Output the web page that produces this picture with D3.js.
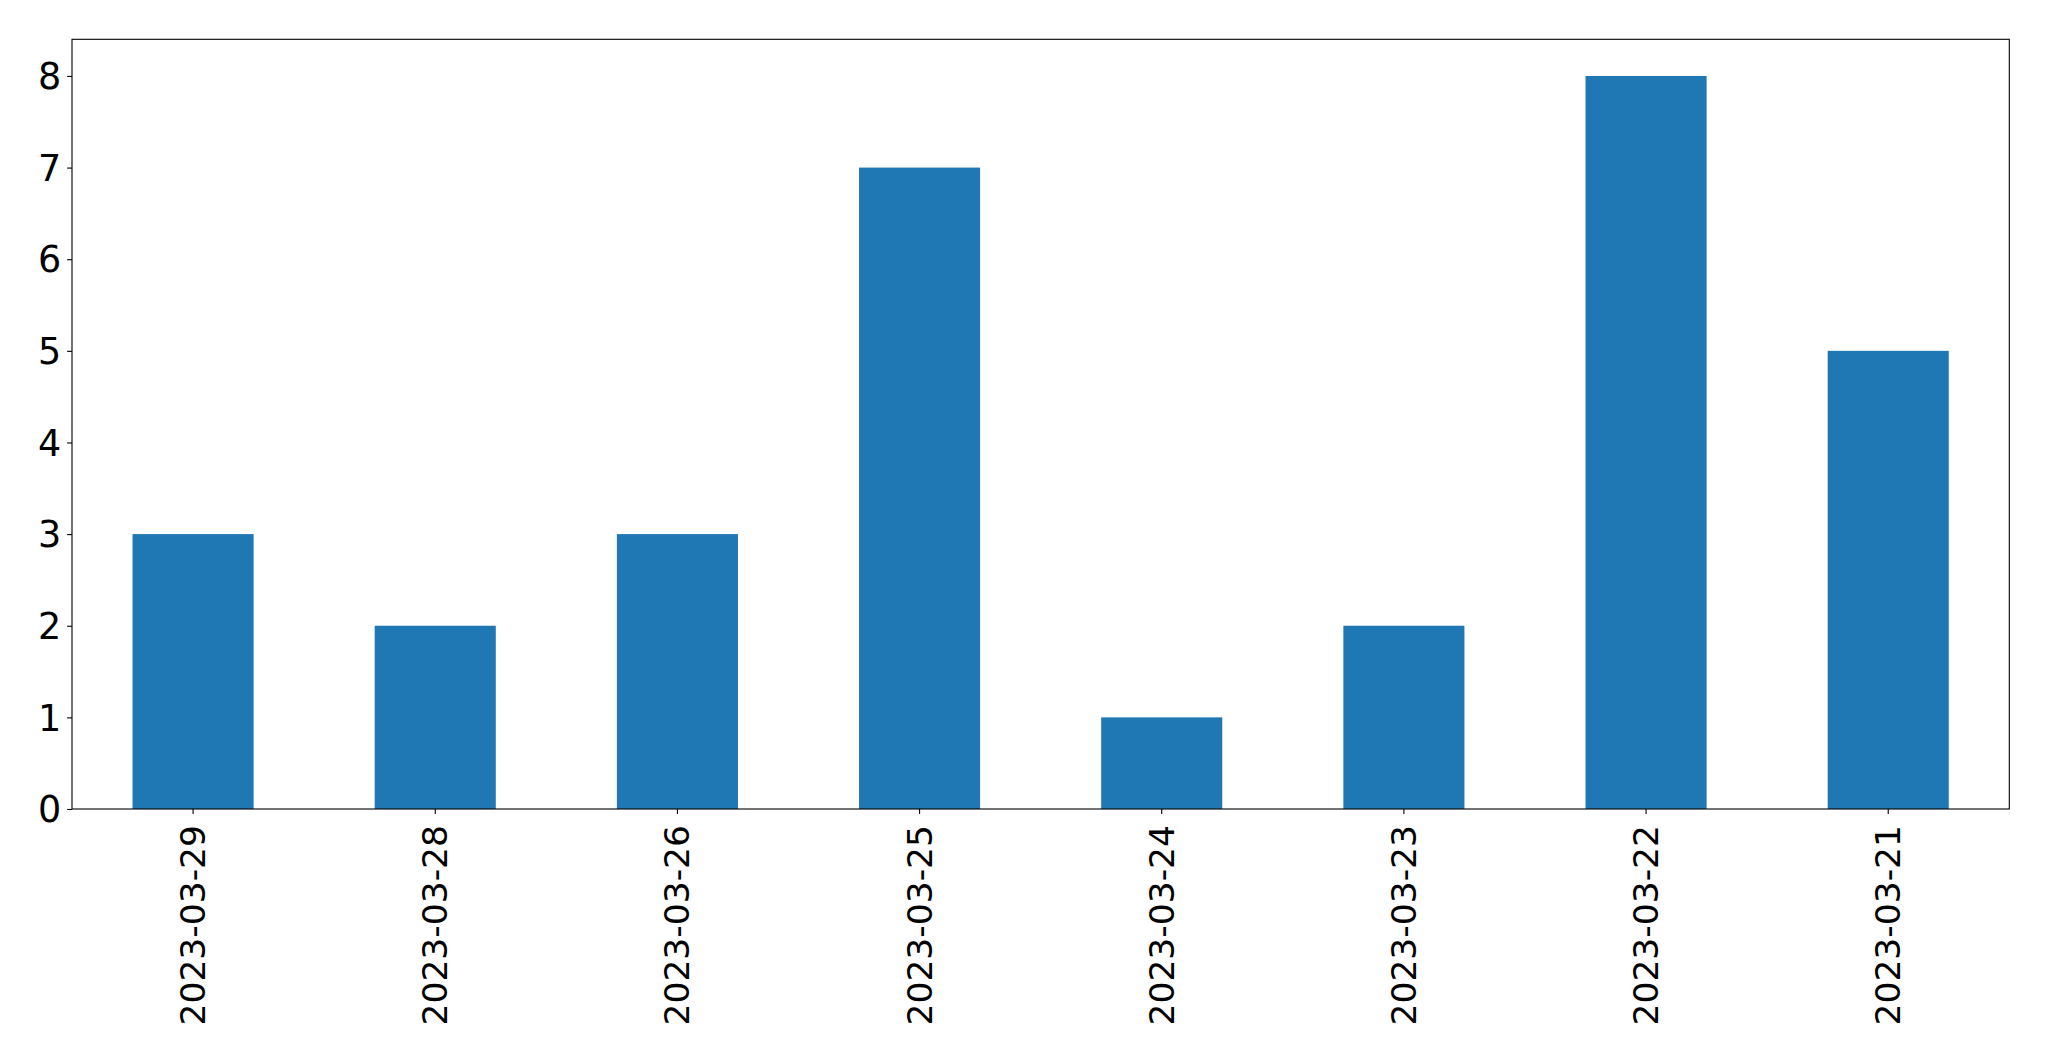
<!DOCTYPE html>
<html>
<head>
<meta charset="utf-8">
<script src="https://cdn.jsdelivr.net/npm/d3@7"></script>
<style>
  body { margin: 0; background: #fff; }
  svg { display: block; }
  text { font-family: "DejaVu Sans", sans-serif; fill: #000; }
</style>
</head>
<body>
<svg id="chart" width="2049" height="1061"></svg>
<script>
const categories = ["2023-03-29", "2023-03-28", "2023-03-26", "2023-03-25", "2023-03-24", "2023-03-23", "2023-03-22", "2023-03-21"];
const values = [3, 2, 3, 7, 1, 2, 8, 5];
const yTicks = [0, 1, 2, 3, 4, 5, 6, 7, 8];

const W = 2049, H = 1061;
const margin = { left: 72, top: 39.3, right: W - 2009.3, bottom: H - 809 };
const iw = W - margin.left - margin.right;
const ih = H - margin.top - margin.bottom;

const svg = d3.select("#chart");
const g = svg.append("g").attr("transform", `translate(${margin.left},${margin.top})`);

const x = d3.scaleBand().domain(categories).range([0, iw]).paddingInner(0.5).paddingOuter(0.25);
const y = d3.scaleLinear().domain([0, 8.4]).range([ih, 0]);

g.selectAll("rect.bar").data(values).join("rect")
  .attr("class", "bar")
  .attr("x", (d, i) => x(categories[i]))
  .attr("width", x.bandwidth())
  .attr("y", d => y(d))
  .attr("height", d => y(0) - y(d))
  .attr("fill", "#1f77b4");

const yAxis = g.append("g").call(d3.axisLeft(y).tickValues(yTicks).tickFormat(d3.format("d")).tickSize(4.9).tickPadding(6));
yAxis.select(".domain").remove();
yAxis.selectAll("text").style("font-size", "36.5px").attr("dy", "0.35em");
yAxis.selectAll("line").attr("stroke", "#000").attr("stroke-width", 1.1);

const xAxis = g.append("g").attr("transform", `translate(0,${ih})`)
  .call(d3.axisBottom(x).tickSize(4.9).tickPadding(0));
xAxis.select(".domain").remove();
xAxis.selectAll("line").attr("stroke", "#000").attr("stroke-width", 1.1);
xAxis.selectAll("text")
  .style("font-size", "34.5px")
  .attr("text-anchor", "end")
  .attr("dy", "0.35em")
  .attr("y", 0)
  .attr("transform", "translate(0,16) rotate(-90)");

g.append("rect").attr("x", 0).attr("y", 0).attr("width", iw).attr("height", ih)
  .attr("fill", "none").attr("stroke", "#000").attr("stroke-width", 1.1);
</script>
</body>
</html>
